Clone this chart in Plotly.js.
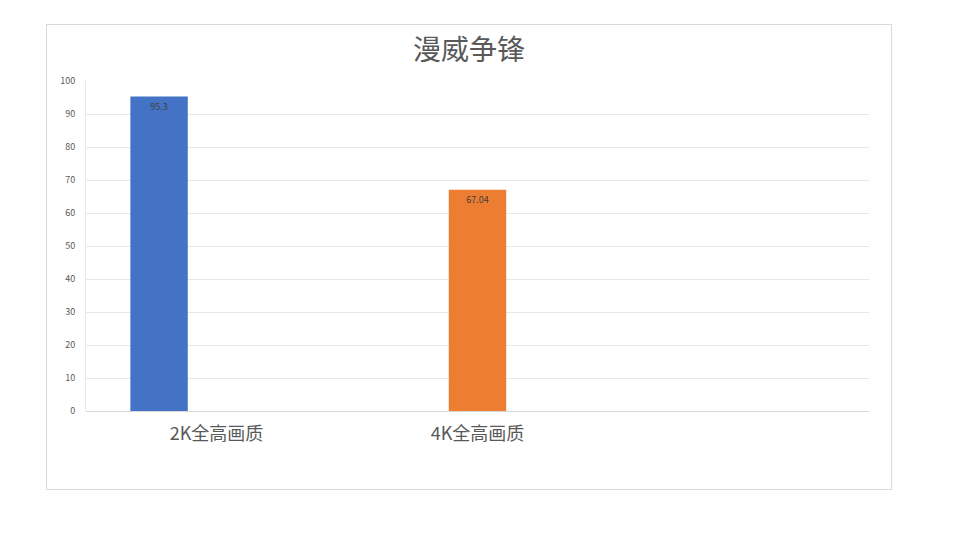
<!DOCTYPE html>
<html>
<head>
<meta charset="utf-8">
<script src="https://cdn.plot.ly/plotly-3.0.1.min.js"></script>
<style>
  html, body { margin: 0; padding: 0; background: #ffffff; }
  #frame {
    position: absolute; left: 46px; top: 24px;
    width: 846px; height: 466px;
    border: 1px solid #d9d9d9; box-sizing: border-box;
  }
  #chart { width: 844px; height: 464px; }
</style>
</head>
<body>
<div id="frame"><div id="chart"></div></div>
<script>
/* ── data ─────────────────────────────────────────────*/
const chartTitle = "漫威争锋";
const categories = ["2K全高画质", "4K全高画质"];
const values2K   = [95.3, null];
const values4K   = [null, 67.04];
const yTicks     = [0, 10, 20, 30, 40, 50, 60, 70, 80, 90, 100];

/* ── styles ───────────────────────────────────────────*/
const colors = {
    blue  : "#4472c4",
    orange: "#ed7d31",
    text  : "#595959",
    label : "#404040",
    grid  : "#e8e8e8"
};
const FONT = "'Noto Sans CJK SC', 'Noto Sans', sans-serif";

function barTrace(vals, color, offset) {
    return {
        type: "bar",
        x: categories,
        y: vals,
        width: 0.22,
        offset: offset,
        marker: { color: color, line: { color: color, width: 0 } },
        text: vals.map(v => v == null ? "" : String(v)),
        textposition: "inside",
        insidetextanchor: "end",
        constraintext: "none",
        textfont: { family: FONT, size: 9, color: colors.label },
        hoverinfo: "x+y"
    };
}

const traces = [
    barTrace(values2K, colors.blue, -0.33),
    barTrace(values4K, colors.orange, -0.11)
];

const layout = {
    width: 844,
    height: 464,
    margin: { l: 39, r: 22, t: 56, b: 78 },
    paper_bgcolor: "#ffffff",
    plot_bgcolor: "#ffffff",
    showlegend: false,
    font: { family: FONT, color: colors.text },
    title: {
        text: chartTitle,
        font: { family: FONT, size: 28, color: colors.text },
        x: 0.5, xanchor: "center",
        y: 1 - 25 / 464, yref: "container", yanchor: "middle"
    },
    xaxis: {
        type: "category",
        range: [-0.5, 2.5],
        showgrid: false,
        showline: false,
        zeroline: false,
        ticks: "",
        tickfont: { family: FONT, size: 18, color: colors.text },
        ticklabelstandoff: 10
    },
    yaxis: {
        range: [0, 100],
        tickvals: yTicks,
        ticktext: yTicks.map(String),
        showgrid: true,
        gridcolor: colors.grid,
        gridwidth: 1,
        zeroline: true,
        zerolinecolor: "#d9d9d9",
        zerolinewidth: 1,
        showline: true,
        linecolor: colors.grid,
        ticks: "",
        tickfont: { family: FONT, size: 9, color: colors.text },
        ticklabelstandoff: 8
    }
};

Plotly.newPlot("chart", traces, layout, { displayModeBar: false, staticPlot: true });
</script>
</body>
</html>
